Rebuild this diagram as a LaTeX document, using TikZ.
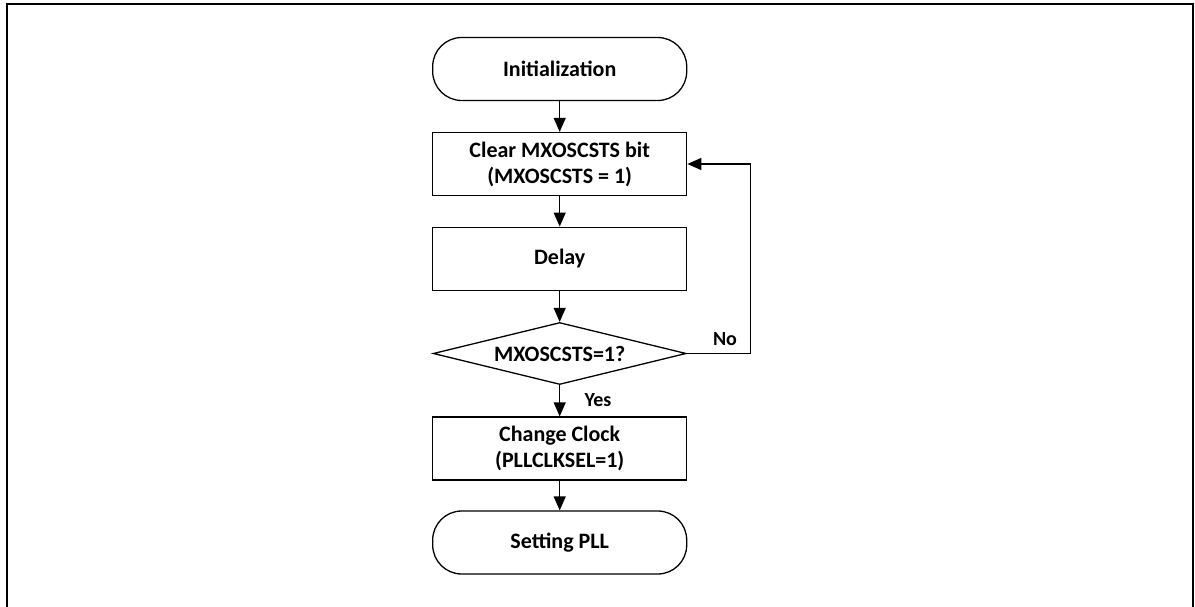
\documentclass[tikz,border=0pt]{standalone}
\usepackage{fontspec}
\setmainfont{Carlito}
\usetikzlibrary{shapes.geometric,arrows.meta}
\begin{document}
\begin{tikzpicture}[x=1pt,y=-1pt,
  every node/.style={font=\fontsize{22}{26}\selectfont\bfseries, align=center, inner sep=0pt},
  proc/.style={draw, line width=1.3pt, minimum width=254pt, minimum height=63pt},
  term/.style={proc, rounded corners=29pt},
  dec/.style={draw, line width=1.3pt, diamond, aspect=4.08, minimum width=253pt, minimum height=62pt},
  arr/.style={line width=1.3pt, -{Triangle[length=14pt,width=12pt]}},
  lbl/.style={font=\fontsize{20}{24}\selectfont\bfseries}]
\useasboundingbox (0,0) rectangle (1195,607);
\draw[line width=2pt] (7,615) -- (7,4) -- (1193,4) -- (1193,615);
\node[term] (init) at (559.7,69) {Initialization};
\node[proc] (clear) at (559.7,164) {Clear MXOSCSTS bit\\(MXOSCSTS = 1)};
\node[proc] (delay) at (559.7,258.7) {Delay};
\node[dec] (chk) at (559.7,353.5) {MXOSCSTS=1?};
\node[proc] (chg) at (559.7,448.5) {Change Clock\\(PLLCLKSEL=1)};
\node[term] (pll) at (559.7,542.5) {Setting PLL};
\coordinate (c1) at (750.7,353.5);
\coordinate (c2) at (750.7,164);
\draw[arr] (init) -- (clear);
\draw[arr] (clear) -- (delay);
\draw[arr] (delay) -- (chk);
\draw[arr] (chk) -- (chg);
\draw[arr] (chg) -- (pll);
\draw[arr] (chk.east) -- (c1) -- (c2) -- (clear.east);
\node[lbl] (no) at (725,339) {No};
\node[lbl] (yes) at (598,400) {Yes};
\end{tikzpicture}
\end{document}
